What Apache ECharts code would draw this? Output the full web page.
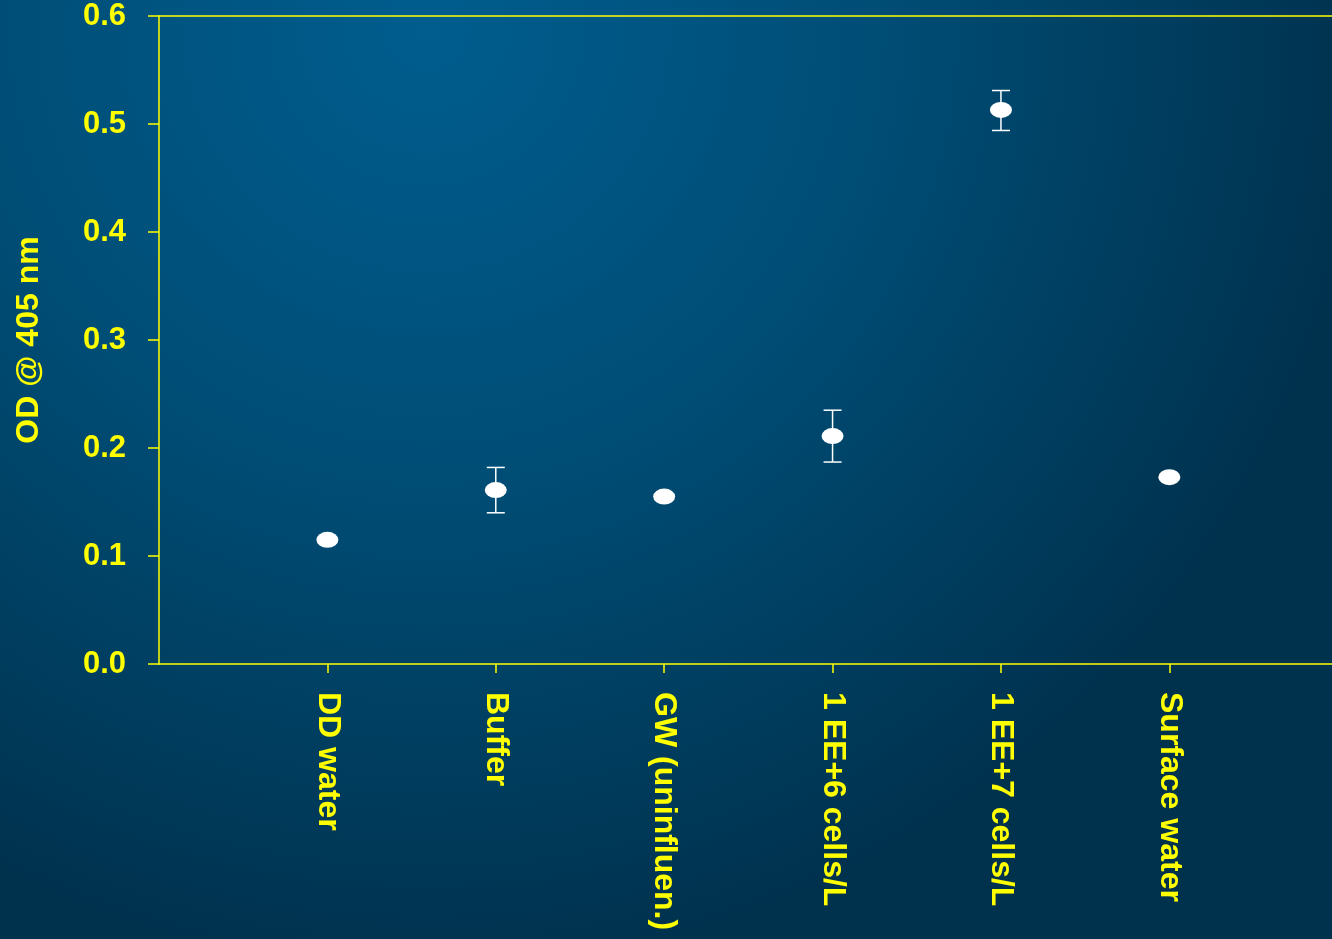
<!DOCTYPE html>
<html>
<head>
<meta charset="utf-8">
<title>OD @ 405 nm</title>
<script src="https://cdn.jsdelivr.net/npm/echarts@6/dist/echarts.min.js"></script>
<style>
  html, body { margin: 0; padding: 0; }
  #chart { width: 1332px; height: 939px; }
</style>
</head>
<body>
<div id="chart"></div>
<script>
// Sample groups along the x axis
const categories = ['DD water', 'Buffer', 'GW (uninfluen.)', '1 EE+6 cells/L', '1 EE+7 cells/L', 'Surface water'];
// Mean optical density for each group
const meanOD = [0.115, 0.161, 0.155, 0.211, 0.513, 0.173];
// Error bar bounds (null where no bar is shown)
const errLow = [null, 0.140, null, 0.187, 0.494, null];
const errHigh = [null, 0.182, null, 0.235, 0.531, null];
// Y axis ticks
const yTicks = [0, 0.1, 0.2, 0.3, 0.4, 0.5, 0.6];

const YELLOW = '#ffff00';
const FONT = '"Liberation Sans", Arial, sans-serif';

const positions = categories.map((_, i) => i + 1);
const points = meanOD.map((v, i) => [positions[i], v]);
const bars = [];
errLow.forEach((lo, i) => {
  if (lo != null && errHigh[i] != null) bars.push([positions[i], lo, errHigh[i]]);
});

const chart = echarts.init(document.getElementById('chart'), null, { renderer: 'canvas' });

chart.setOption({
  animation: false,
  backgroundColor: {
    type: 'radial', x: 0.32, y: 0.03, r: 1.02,
    colorStops: [
      { offset: 0, color: '#005d8e' },
      { offset: 0.45, color: '#004e77' },
      { offset: 1, color: '#00314d' }
    ]
  },
  grid: { left: 159, top: 16, right: 0, bottom: 275, containLabel: false },
  xAxis: [{
    type: 'value',
    min: 0,
    max: 6.966,
    interval: 1,
    axisLine: { show: true, onZero: false, lineStyle: { color: YELLOW, width: 1.5 } },
    axisTick: { show: true, length: 9, customValues: positions, lineStyle: { color: YELLOW, width: 1.5 } },
    splitLine: { show: false },
    axisLabel: {
      customValues: positions,
      rotate: -90,
      margin: 28,
      color: YELLOW,
      fontFamily: FONT,
      fontWeight: 'bold',
      fontSize: 32,
      formatter: v => categories[Math.round(v) - 1] || ''
    }
  }, {
    type: 'value',
    position: 'top',
    min: 0,
    max: 6.966,
    axisLine: { show: true, onZero: false, lineStyle: { color: YELLOW, width: 1.5 } },
    axisTick: { show: false },
    axisLabel: { show: false },
    splitLine: { show: false }
  }],
  yAxis: {
    type: 'value',
    min: yTicks[0],
    max: yTicks[yTicks.length - 1],
    interval: 0.1,
    name: 'OD @ 405 nm',
    nameLocation: 'middle',
    nameGap: 114,
    nameTextStyle: { color: YELLOW, fontFamily: FONT, fontWeight: 'bold', fontSize: 32 },
    axisLine: { show: true, onZero: false, lineStyle: { color: YELLOW, width: 1.5 } },
    axisTick: { show: true, length: 11, lineStyle: { color: YELLOW, width: 1.5 } },
    splitLine: { show: false },
    axisLabel: {
      margin: 33,
      color: YELLOW,
      fontFamily: FONT,
      fontWeight: 'bold',
      fontSize: 31,
      formatter: v => v.toFixed(1)
    }
  },
  series: [{
    type: 'custom',
    name: 'error',
    xAxisIndex: 0,
    z: 2,
    data: bars,
    renderItem: (params, api) => {
      const x = api.value(0);
      const lo = api.coord([x, api.value(1)]);
      const hi = api.coord([x, api.value(2)]);
      const half = 9;
      const style = { stroke: '#ffffff', lineWidth: 1.5 };
      return {
        type: 'group',
        children: [
          { type: 'line', shape: { x1: lo[0], y1: lo[1], x2: hi[0], y2: hi[1] }, style },
          { type: 'line', shape: { x1: lo[0] - half, y1: lo[1], x2: lo[0] + half, y2: lo[1] }, style },
          { type: 'line', shape: { x1: hi[0] - half, y1: hi[1], x2: hi[0] + half, y2: hi[1] }, style }
        ]
      };
    }
  }, {
    type: 'scatter',
    name: 'OD',
    xAxisIndex: 0,
    z: 3,
    symbol: 'circle',
    symbolSize: [22, 16],
    itemStyle: { color: '#ffffff', opacity: 1 },
    data: points
  }]
});
</script>
</body>
</html>
